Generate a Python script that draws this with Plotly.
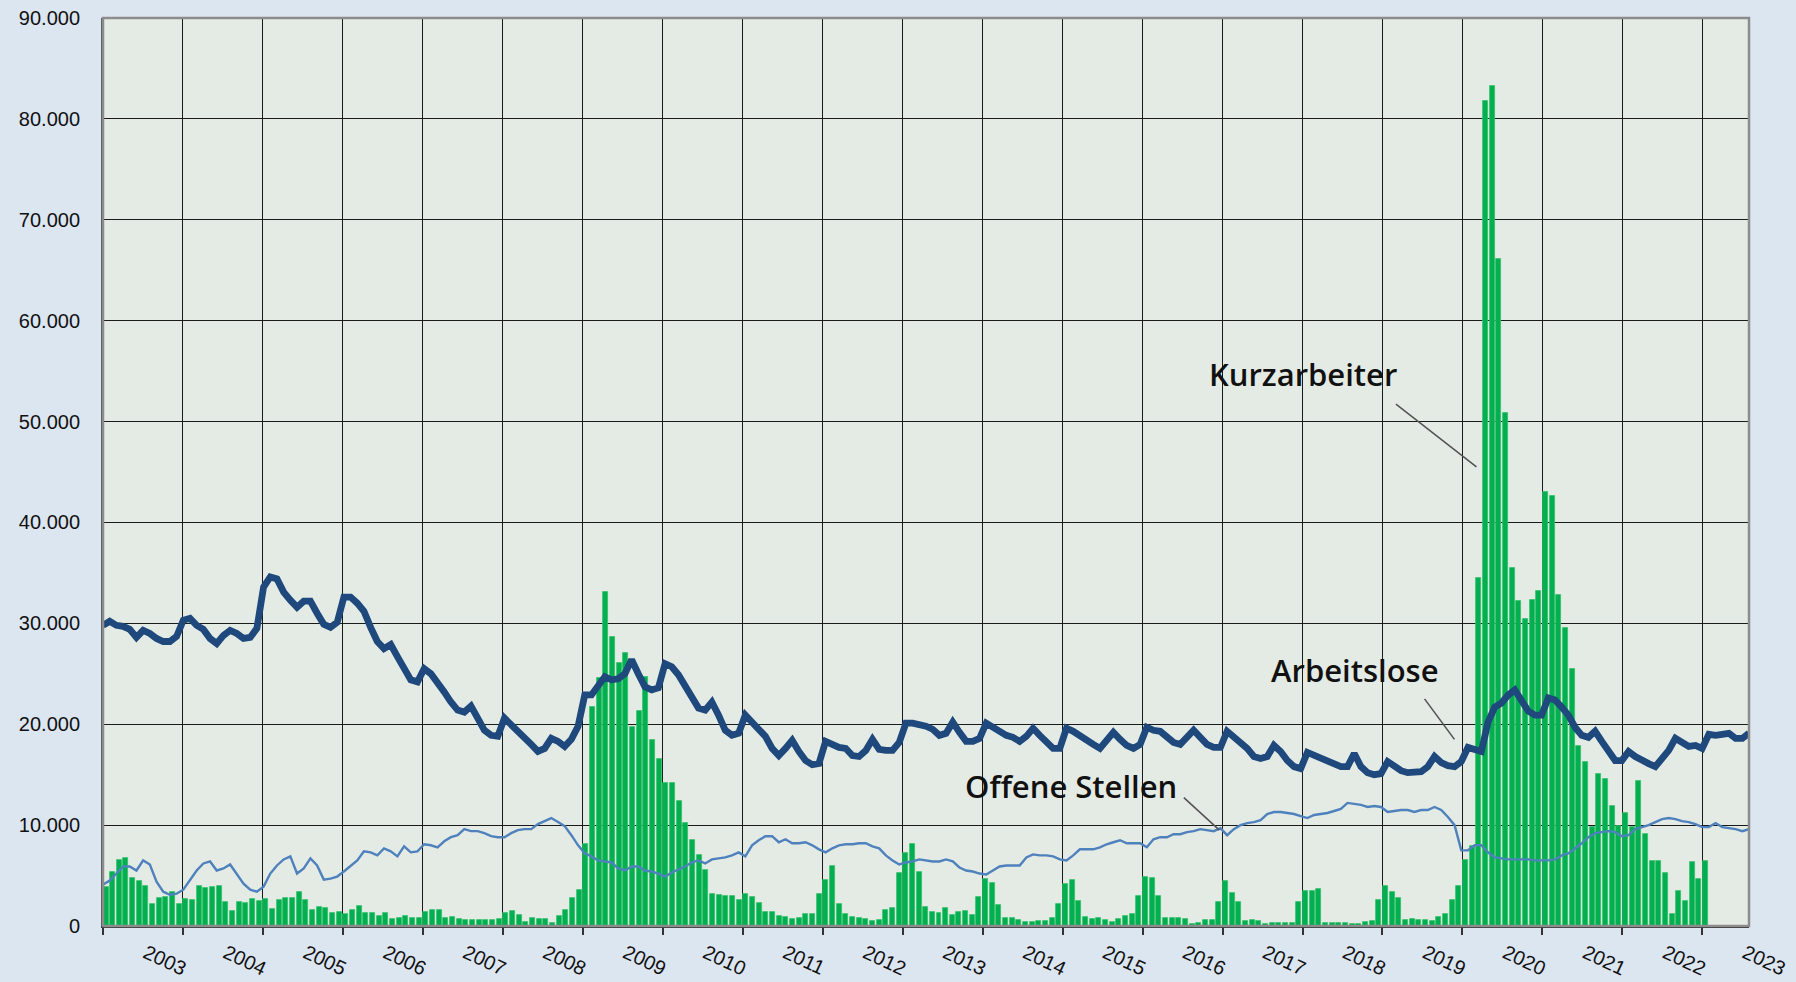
import plotly.graph_objects as go

# ---------------- data (values in thousands, monthly from Jan 2003) ----------------
arbeitslose_tsd = [
    29.8, 30.2, 29.8, 29.7, 29.4, 28.6, 29.3, 29.0, 28.5, 28.2, 28.2, 28.7,   # 2003
    30.3, 30.5, 29.8, 29.4, 28.5, 28.0, 28.8, 29.3, 29.0, 28.5, 28.6, 29.5,   # 2004
    33.6, 34.6, 34.4, 33.1, 32.3, 31.6, 32.2, 32.2, 31.0, 29.9, 29.6, 30.1,   # 2005
    32.6, 32.6, 32.0, 31.2, 29.6, 28.2, 27.5, 27.9, 26.7, 25.4, 24.4, 24.2,   # 2006
    25.5, 25.0, 24.2, 23.2, 22.2, 21.4, 21.2, 21.8, 20.6, 19.4, 18.9, 18.8,   # 2007
    20.6, 20.0, 19.2, 18.8, 18.0, 17.3, 17.6, 18.6, 18.3, 17.8, 18.5, 19.8,   # 2008
    22.9, 22.9, 23.7, 24.7, 24.4, 24.5, 25.0, 26.4, 25.0, 23.7, 23.4, 23.6,   # 2009
    26.0, 25.7, 24.9, 23.7, 22.6, 21.6, 21.4, 22.2, 20.9, 19.4, 18.9, 19.1,   # 2010
    20.9, 20.2, 19.4, 18.8, 17.6, 16.9, 17.6, 18.4, 17.3, 16.4, 16.0, 16.1,   # 2011
    18.3, 18.0, 17.7, 17.6, 16.9, 16.8, 17.4, 18.5, 17.5, 17.4, 17.4, 18.2,   # 2012
    20.1, 20.1, 20.0, 19.8, 19.5, 18.9, 19.1, 20.2, 19.2, 18.3, 18.3, 18.6,   # 2013
    20.1, 19.7, 19.3, 18.9, 18.7, 18.3, 18.8, 19.6, 18.9, 18.3, 17.6, 17.6,   # 2014
    19.6, 19.3, 18.8, 18.3, 18.0, 17.6, 18.4, 19.2, 18.5, 17.9, 17.6, 18.0,   # 2015
    19.7, 19.4, 19.3, 18.7, 18.2, 18.0, 18.8, 19.4, 18.7, 18.0, 17.7, 17.7,   # 2016
    19.3, 18.8, 18.1, 17.6, 16.8, 16.6, 16.8, 17.9, 17.3, 16.4, 15.8, 15.6,   # 2017
    17.2, 16.9, 16.6, 16.3, 16.1, 15.8, 15.8, 17.1, 15.8, 15.2, 15.0, 15.1,   # 2018
    16.3, 15.8, 15.4, 15.2, 15.3, 15.3, 15.8, 16.8, 16.2, 15.9, 15.8, 16.3,   # 2019
    17.7, 17.5, 17.3, 20.2, 21.7, 22.1, 22.9, 23.4, 22.3, 21.3, 20.9, 20.9,   # 2020
    22.6, 22.4, 21.7, 20.9, 19.7, 18.9, 18.7, 19.3, 18.3, 17.2, 16.4, 16.4,   # 2021
    17.3, 16.8, 16.4, 16.1, 15.8, 16.5, 17.4, 18.6, 18.2, 17.8, 17.9, 17.6,   # 2022
    19.0, 18.9, 19.0, 19.1, 18.6, 18.6, 19.1,                                 # 2023
]

offene_stellen_tsd = [
    4.1, 4.5, 5.2, 5.9, 5.9, 5.5, 6.5, 6.1, 4.4, 3.4, 3.1, 3.2,
    3.6, 4.5, 5.5, 6.2, 6.4, 5.5, 5.7, 6.1, 5.2, 4.2, 3.6, 3.4,
    3.9, 5.2, 6.0, 6.6, 6.9, 5.2, 5.7, 6.7, 6.0, 4.6, 4.7, 4.9,
    5.4, 6.0, 6.5, 7.4, 7.3, 7.0, 7.7, 7.4, 6.9, 7.9, 7.3, 7.4,
    8.1, 8.0, 7.8, 8.4, 8.8, 9.0, 9.6, 9.4, 9.4, 9.2, 8.9, 8.8,
    8.8, 9.2, 9.5, 9.6, 9.6, 10.1, 10.4, 10.7, 10.3, 9.9, 9.0, 8.0,
    7.2, 6.9, 6.5, 6.4, 6.3, 5.7, 5.5, 5.9, 5.9, 5.5, 5.4, 5.2,
    4.9, 5.3, 5.6, 5.9, 6.3, 6.5, 6.2, 6.6, 6.7, 6.8, 7.0, 7.3,
    6.9, 8.0, 8.5, 8.9, 8.9, 8.3, 8.6, 8.2, 8.2, 8.3, 8.0, 7.6,
    7.3, 7.7, 8.0, 8.1, 8.1, 8.2, 8.2, 7.9, 7.7, 7.0, 6.5, 6.1,
    6.3, 6.4, 6.6, 6.5, 6.4, 6.4, 6.6, 6.4, 5.8, 5.5, 5.4, 5.2,
    5.1, 5.5, 5.9, 6.0, 6.0, 6.0, 6.8, 7.1, 7.0, 7.0, 6.9, 6.6,
    6.5, 7.0, 7.6, 7.6, 7.6, 7.8, 8.1, 8.3, 8.5, 8.2, 8.2, 8.2,
    7.8, 8.6, 8.8, 8.8, 9.1, 9.1, 9.3, 9.4, 9.6, 9.5, 9.4, 9.7,
    9.0, 9.6, 10.0, 10.2, 10.3, 10.5, 11.1, 11.3, 11.3, 11.2, 11.1, 10.9,
    10.7, 11.0, 11.1, 11.2, 11.4, 11.6, 12.2, 12.1, 12.0, 11.8, 11.9, 11.8,
    11.3, 11.4, 11.5, 11.5, 11.3, 11.5, 11.5, 11.8, 11.5, 10.8, 10.0, 7.5,
    7.5, 8.0, 8.0, 7.3, 6.8, 6.7, 6.6, 6.6, 6.6, 6.6, 6.5, 6.5,
    6.5, 6.6, 7.0, 7.2, 7.7, 8.2, 8.8, 9.2, 9.3, 9.4, 9.3, 8.9,
    9.0, 9.6, 9.8, 10.0, 10.3, 10.6, 10.7, 10.6, 10.4, 10.3, 10.1, 9.8,
    9.8, 10.2, 9.8, 9.7, 9.6, 9.4, 9.6,
]

kurzarbeiter_tsd = [
    3.9, 5.4, 6.5, 6.7, 4.8, 4.5, 4.0, 2.2, 2.8, 2.9, 3.4, 2.2,
    2.7, 2.6, 4.0, 3.8, 3.9, 4.0, 2.4, 1.5, 2.4, 2.3, 2.7, 2.5,
    2.7, 1.7, 2.6, 2.8, 2.8, 3.4, 2.6, 1.6, 1.9, 1.8, 1.3, 1.4,
    1.2, 1.6, 2.0, 1.3, 1.3, 1.0, 1.3, 0.7, 0.8, 1.0, 0.8, 0.8,
    1.4, 1.6, 1.6, 0.8, 0.9, 0.7, 0.6, 0.6, 0.6, 0.6, 0.6, 0.7,
    1.3, 1.5, 1.1, 0.4, 0.8, 0.7, 0.7, 0.3, 1.0, 1.6, 2.8, 3.6,
    8.1, 21.7, 24.6, 33.1, 28.6, 26.1, 27.1, 19.7, 21.3, 24.7, 18.4, 16.6,
    14.2, 14.2, 12.4, 10.2, 8.5, 7.0, 5.6, 3.2, 3.1, 3.0, 3.0, 2.6,
    3.2, 2.9, 2.3, 1.4, 1.4, 1.0, 0.9, 0.7, 0.8, 1.2, 1.2, 3.2,
    4.6, 5.9, 2.2, 1.2, 0.9, 0.8, 0.7, 0.5, 0.6, 1.6, 1.8, 5.3,
    7.2, 8.1, 5.4, 1.9, 1.4, 1.3, 1.8, 1.1, 1.4, 1.5, 1.1, 2.9,
    4.7, 4.3, 2.1, 0.8, 0.8, 0.6, 0.4, 0.4, 0.5, 0.5, 0.8, 2.2,
    4.2, 4.6, 2.5, 0.9, 0.7, 0.8, 0.6, 0.4, 0.7, 1.0, 1.2, 3.0,
    4.9, 4.8, 3.0, 0.8, 0.8, 0.8, 0.7, 0.2, 0.3, 0.6, 0.6, 2.4,
    4.5, 3.3, 2.4, 0.5, 0.6, 0.5, 0.2, 0.3, 0.3, 0.3, 0.3, 2.4,
    3.5, 3.5, 3.7, 0.3, 0.3, 0.3, 0.3, 0.2, 0.2, 0.4, 0.5, 2.6,
    4.0, 3.4, 2.8, 0.6, 0.7, 0.6, 0.6, 0.5, 0.9, 1.2, 2.6, 4.0,
    6.5, 7.9, 34.5, 81.8, 83.3, 66.1, 50.8, 35.5, 32.2, 30.4, 32.3, 33.2,
    43.0, 42.6, 32.8, 29.5, 25.5, 17.8, 16.3, 9.8, 15.1, 14.6, 11.9, 9.9,
    11.2, 9.8, 14.4, 9.1, 6.4, 6.4, 5.3, 1.2, 3.5, 2.5, 6.3, 4.7,
    6.4,
]

year_labels = [str(y) for y in range(2003, 2024)]
y_tick_values = list(range(0, 90001, 10000))

# ---------------- derived ----------------
arbeitslose = [v * 1000 for v in arbeitslose_tsd]
offene_stellen = [v * 1000 for v in offene_stellen_tsd]
kurzarbeiter = [v * 1000 for v in kurzarbeiter_tsd]

start_year = 2003
n_line = len(arbeitslose)
x_end = start_year + n_line / 12.0
x_line = [start_year + i * (x_end - start_year) / (n_line - 1) for i in range(n_line)]
x_bar = [start_year + (i + 0.45) / 12.0 for i in range(len(kurzarbeiter))]

label_pos = [int(y) + 0.5 for y in year_labels]
year_lines = [int(y) for y in year_labels]

PAPER = "#dce6f1"
PLOT = "#e4ebe4"

fig = go.Figure()
fig.add_trace(go.Bar(
    x=x_bar, y=kurzarbeiter, width=0.75 / 12,
    marker=dict(color="#00b050", line=dict(color="#33c06a", width=0.8)),
    name="Kurzarbeiter", hoverinfo="skip",
))
fig.add_trace(go.Scatter(
    x=x_line, y=offene_stellen, mode="lines",
    line=dict(color="#4f81bd", width=2.4), name="Offene Stellen", hoverinfo="skip",
))
fig.add_trace(go.Scatter(
    x=x_line, y=arbeitslose, mode="lines",
    line=dict(color="#1f497d", width=6.8), name="Arbeitslose", hoverinfo="skip",
))

tick_font = dict(family="Liberation Sans, Arial, sans-serif", size=20, color="#111111")

fig.update_layout(
    width=1796, height=982,
    paper_bgcolor=PAPER, plot_bgcolor=PLOT,
    margin=dict(l=103, r=47, t=18, b=56),
    showlegend=False, bargap=0,
    separators=",.",
    xaxis=dict(
        range=[start_year, x_end],
        tickmode="array", tickvals=label_pos, ticktext=year_labels,
        tickangle=25, ticks="", showgrid=False, tickfont=tick_font,
        ticklabelstandoff=6, ticklabelshift=3,
        showline=True, linecolor="#333333", linewidth=2,
        zeroline=False, automargin=False,
        minor=dict(tickmode="array", tickvals=year_lines, ticks="outside",
                   ticklen=7, tickcolor="#333333", tickwidth=1.5,
                   showgrid=True, gridcolor="#1a1a1a", gridwidth=1),
    ),
    yaxis=dict(
        range=[0, 90000], tickmode="array", tickvals=y_tick_values,
        tickformat=",d", tickfont=tick_font, ticks="", ticklabelstandoff=17,
        showgrid=True, gridcolor="#1a1a1a", gridwidth=1,
        showline=True, linecolor="#555555", linewidth=2,
        zeroline=False, automargin=False,
    ),
    shapes=[dict(type="rect", xref="paper", yref="paper", x0=0, x1=1, y0=0, y1=1,
                 line=dict(color="#8c8c8c", width=2.5), fillcolor="rgba(0,0,0,0)",
                 layer="above")],
)

label_font = dict(family="Open Sans, Noto Sans, sans-serif", size=31, color="#111111", weight=600)

# text labels
fig.add_annotation(x=2018.0, y=54700, text="Kurzarbeiter", showarrow=False, font=label_font)
fig.add_annotation(x=2018.66, y=25400, text="Arbeitslose", showarrow=False, font=label_font)
fig.add_annotation(x=2015.1, y=13900, text="Offene Stellen", showarrow=False, font=label_font)

# leader lines
leader = dict(showarrow=True, arrowhead=0, arrowwidth=1.6, arrowcolor="#555555",
              axref="pixel", ayref="pixel", text="")
fig.add_annotation(x=2020.175, y=45500, ax=-82, ay=-64, **leader)
fig.add_annotation(x=2019.9, y=18500, ax=-31, ay=-42, **leader)
fig.add_annotation(x=2016.96, y=9500, ax=-37, ay=-34, **leader)

fig.write_html(
    "out.html",
    config={"displayModeBar": False},
    post_script="document.body.style.margin='0';document.body.style.overflow='hidden';",
)
